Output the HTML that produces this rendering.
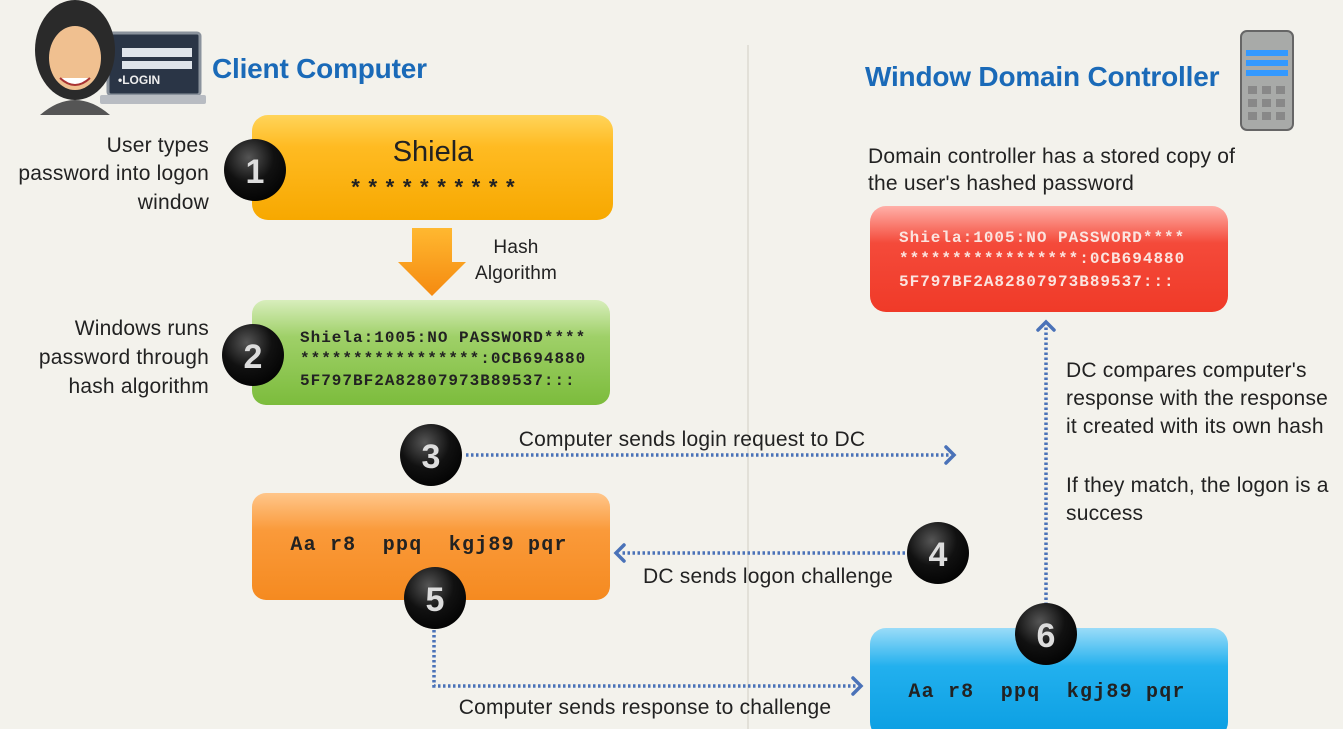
<!DOCTYPE html>
<html><head><meta charset="utf-8"><style>
html,body{margin:0;padding:0;background:#f3f2ec;}
svg{display:block}
.t{font-family:"Liberation Sans",sans-serif;font-size:21px;fill:#222;letter-spacing:0.2px}
.m{font-family:"Liberation Mono",monospace;font-size:16px;font-weight:bold;letter-spacing:1px}
.h{font-family:"Liberation Sans",sans-serif;font-size:28px;font-weight:bold;fill:#1a6ab8;letter-spacing:-0.2px}
.n{font-family:"Liberation Sans",sans-serif;font-size:34px;font-weight:bold;fill:#ddd;text-anchor:middle}
</style></head><body>
<svg width="1343" height="729" viewBox="0 0 1343 729" xmlns="http://www.w3.org/2000/svg">
<defs>
<linearGradient id="or" x1="0" y1="0" x2="0" y2="1"><stop offset="0" stop-color="#ffd45a"/><stop offset="0.3" stop-color="#ffbb22"/><stop offset="1" stop-color="#f7a800"/></linearGradient>
<linearGradient id="gr" x1="0" y1="0" x2="0" y2="1"><stop offset="0" stop-color="#d8eebc"/><stop offset="0.35" stop-color="#9fd068"/><stop offset="1" stop-color="#7cbc3c"/></linearGradient>
<linearGradient id="o2" x1="0" y1="0" x2="0" y2="1"><stop offset="0" stop-color="#ffc68a"/><stop offset="0.35" stop-color="#fa9a3a"/><stop offset="1" stop-color="#f58a20"/></linearGradient>
<linearGradient id="rd" x1="0" y1="0" x2="0" y2="1"><stop offset="0" stop-color="#ffb0a8"/><stop offset="0.35" stop-color="#f44a3a"/><stop offset="1" stop-color="#f03a28"/></linearGradient>
<linearGradient id="bl" x1="0" y1="0" x2="0" y2="1"><stop offset="0" stop-color="#9adcf8"/><stop offset="0.35" stop-color="#22b0ee"/><stop offset="1" stop-color="#0a9ee2"/></linearGradient>
<linearGradient id="ar" x1="0" y1="0" x2="0" y2="1"><stop offset="0" stop-color="#ffb830"/><stop offset="1" stop-color="#f58a10"/></linearGradient>
<radialGradient id="ball" cx="0.4" cy="0.3" r="0.8"><stop offset="0" stop-color="#555"/><stop offset="0.5" stop-color="#111"/><stop offset="1" stop-color="#000"/></radialGradient>
</defs>
<line x1="748" y1="45" x2="748" y2="729" stroke="#dcdad2" stroke-width="1.5"/>

<rect x="108" y="33" width="92" height="62" rx="3" fill="#2a3546" stroke="#8a929c" stroke-width="3"/>
<rect x="100" y="95" width="106" height="9" rx="2" fill="#b8bcc2"/>
<rect x="122" y="48" width="70" height="9" fill="#dfe4ea"/><rect x="122" y="61" width="70" height="8" fill="#dfe4ea"/>
<text x="118" y="84" font-family="Liberation Sans" font-weight="bold" font-size="12" fill="#eee">•LOGIN</text>
<ellipse cx="75" cy="50" rx="40" ry="50" fill="#2a2a2a"/>
<ellipse cx="75" cy="58" rx="26" ry="32" fill="#f0c090"/>
<path d="M40 115 Q75 85 110 115 Z" fill="#555"/>
<path d="M60 78 Q75 92 90 78" fill="#fff" stroke="#a33" stroke-width="2"/>
<text x="212" y="78" class="h">Client Computer</text>
<text x="865" y="86" class="h">Window Domain Controller</text>
<rect x="1241" y="31" width="52" height="99" rx="6" fill="#a8aaa8" stroke="#666" stroke-width="2"/>
<rect x="1246" y="50" width="42" height="6" fill="#39f"/><rect x="1246" y="60" width="42" height="6" fill="#39f"/><rect x="1246" y="70" width="42" height="6" fill="#39f"/>
<g fill="#888"><rect x="1248" y="86" width="9" height="8"/><rect x="1262" y="86" width="9" height="8"/><rect x="1276" y="86" width="9" height="8"/><rect x="1248" y="99" width="9" height="8"/><rect x="1262" y="99" width="9" height="8"/><rect x="1276" y="99" width="9" height="8"/><rect x="1248" y="112" width="9" height="8"/><rect x="1262" y="112" width="9" height="8"/><rect x="1276" y="112" width="9" height="8"/></g>

<rect x="252" y="115" width="361" height="105" rx="16" fill="url(#or)"/>
<text x="433" y="161" font-family="Liberation Sans" font-size="29" fill="#222" text-anchor="middle">Shiela</text>
<text x="435" y="195" font-family="Liberation Mono" font-size="22" font-weight="bold" fill="#222" text-anchor="middle" letter-spacing="4">**********</text>
<g class="t" text-anchor="end"><text x="209" y="152">User types</text><text x="209" y="180">password into logon</text><text x="209" y="209">window</text></g>

<path d="M412 228 H452 V262 H466 L432 296 L398 262 H412 Z" fill="url(#ar)"/>
<g class="t" text-anchor="middle"><text x="516" y="253" style="font-size:19px">Hash</text><text x="516" y="279" style="font-size:19px">Algorithm</text></g>

<rect x="252" y="300" width="358" height="105" rx="14" fill="url(#gr)"/>
<g class="m" fill="#222"><text x="300" y="342">Shiela:1005:NO PASSWORD****</text><text x="300" y="363">*****************:0CB694880</text><text x="300" y="385">5F797BF2A82807973B89537:::</text></g>
<g class="t" text-anchor="end"><text x="209" y="335">Windows runs</text><text x="209" y="364">password through</text><text x="209" y="393">hash algorithm</text></g>

<text x="868" y="163" class="t">Domain controller has a stored copy of</text>
<text x="868" y="190" class="t">the user's hashed password</text>
<rect x="870" y="206" width="358" height="106" rx="16" fill="url(#rd)"/>
<g class="m" fill="#fbe4df"><text x="899" y="242">Shiela:1005:NO PASSWORD****</text><text x="899" y="263">*****************:0CB694880</text><text x="899" y="286">5F797BF2A82807973B89537:::</text></g>

<rect x="252" y="493" width="358" height="107" rx="14" fill="url(#o2)"/>
<text x="429" y="550" font-family="Liberation Mono" font-size="20" font-weight="bold" fill="#222" text-anchor="middle" letter-spacing="1.2" xml:space="preserve">Aa r8  ppq  kgj89 pqr</text>

<rect x="870" y="628" width="358" height="110" rx="16" fill="url(#bl)"/>
<text x="1047" y="697" font-family="Liberation Mono" font-size="20" font-weight="bold" fill="#222" text-anchor="middle" letter-spacing="1.2" xml:space="preserve">Aa r8  ppq  kgj89 pqr</text>

<g stroke="#4a72b8" stroke-width="3.5" stroke-dasharray="2.5 2.5" fill="none">
<line x1="466" y1="455" x2="950" y2="455"/>
<line x1="905" y1="553" x2="620" y2="553"/>
<path d="M434 625 V686 H856"/>
<line x1="1046" y1="605" x2="1046" y2="325"/>
</g>
<g stroke="#4a72b8" stroke-width="3.5" fill="none" stroke-linecap="round">
<path d="M946 447 L954 455 L946 463"/>
<path d="M624 545 L616 553 L624 561"/>
<path d="M853 678 L861 686 L853 694"/>
<path d="M1038 330 L1046 322 L1054 330"/>
</g>
<text x="692" y="446" class="t" text-anchor="middle">Computer sends login request to DC</text>
<text x="768" y="583" class="t" text-anchor="middle">DC sends logon challenge</text>
<text x="645" y="714" class="t" text-anchor="middle">Computer sends response to challenge</text>
<g class="t"><text x="1066" y="377">DC compares computer's</text><text x="1066" y="405">response with the response</text><text x="1066" y="433">it created with its own hash</text><text x="1066" y="492">If they match, the logon is a</text><text x="1066" y="520">success</text></g>

<g><circle cx="255" cy="170" r="31" fill="url(#ball)"/><text x="255" y="183" class="n">1</text></g>
<g><circle cx="253" cy="355" r="31" fill="url(#ball)"/><text x="253" y="368" class="n">2</text></g>
<g><circle cx="431" cy="455" r="31" fill="url(#ball)"/><text x="431" y="468" class="n">3</text></g>
<g><circle cx="938" cy="553" r="31" fill="url(#ball)"/><text x="938" y="566" class="n">4</text></g>
<g><circle cx="435" cy="598" r="31" fill="url(#ball)"/><text x="435" y="611" class="n">5</text></g>
<g><circle cx="1046" cy="634" r="31" fill="url(#ball)"/><text x="1046" y="647" class="n">6</text></g>
</svg>
</body></html>
